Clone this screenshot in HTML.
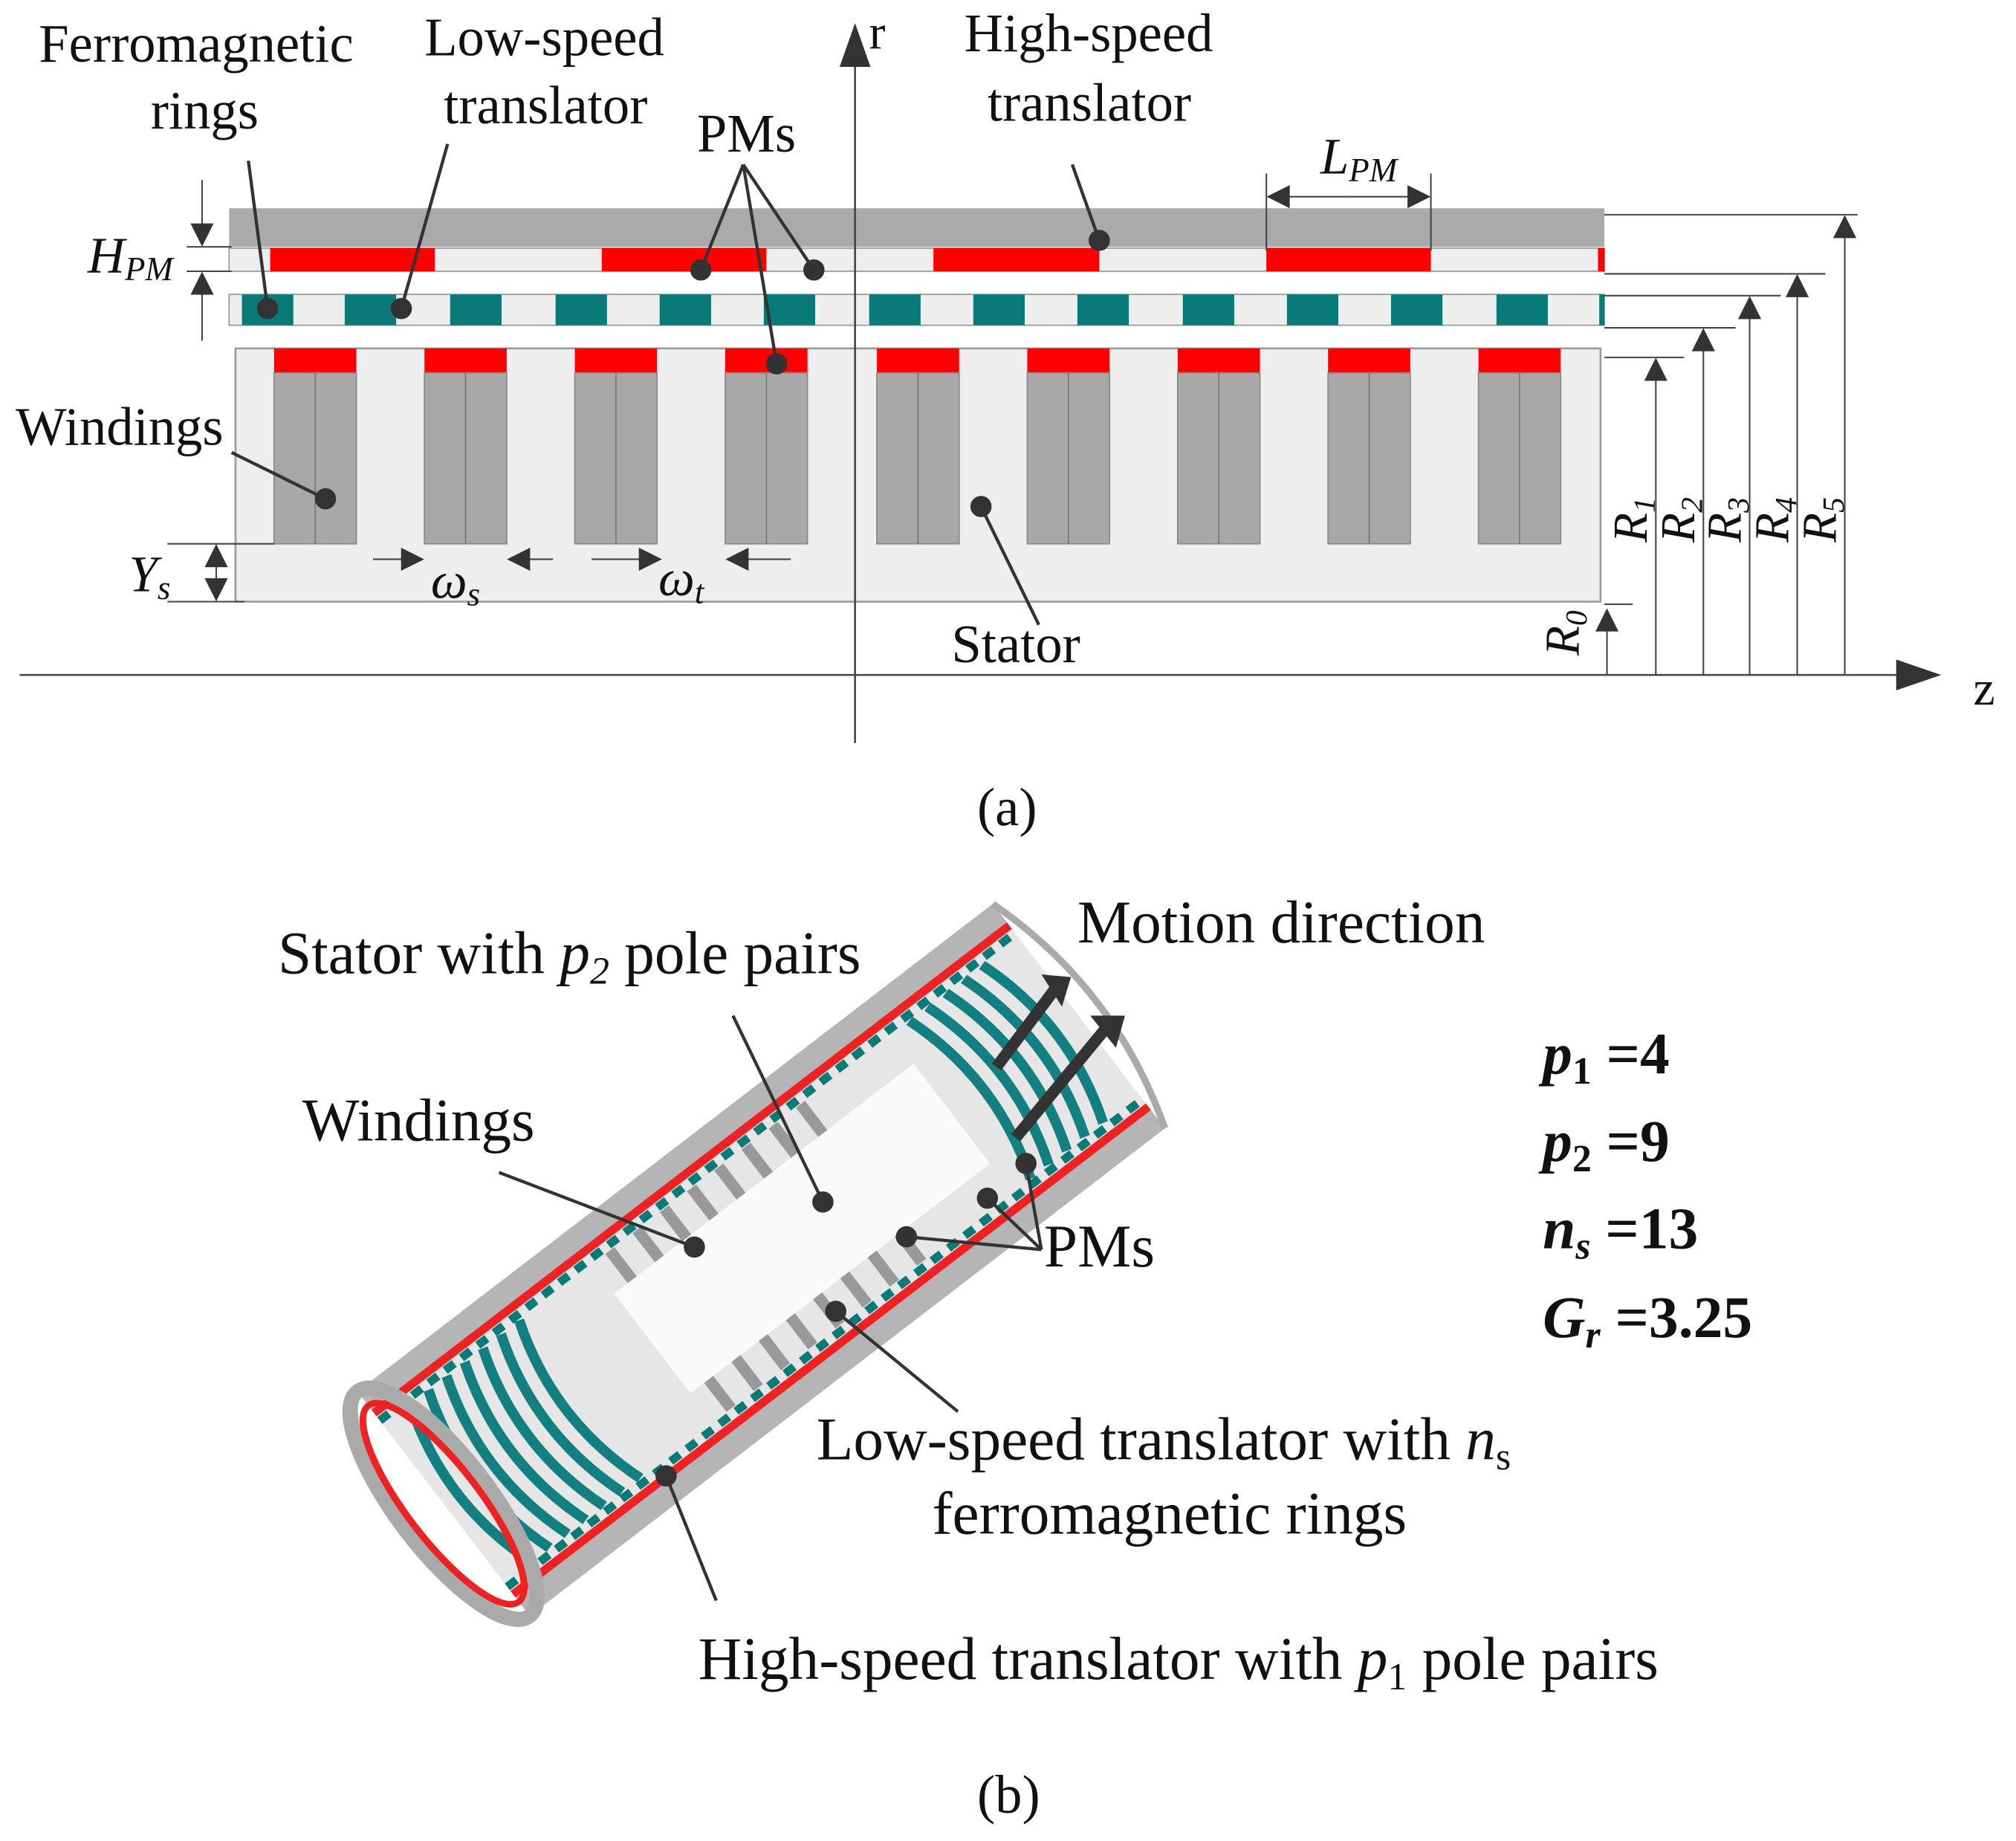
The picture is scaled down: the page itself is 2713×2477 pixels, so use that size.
<!DOCTYPE html>
<html><head><meta charset="utf-8"><style>
html,body{margin:0;padding:0;background:#fff}
svg{display:block}
text{font-family:"Liberation Serif",serif;fill:#111}
</style></head><body>
<svg width="2713" height="2477" viewBox="0 0 1568 1432" xmlns="http://www.w3.org/2000/svg">
<defs>
<marker id="ab" viewBox="0 0 10 10" markerWidth="22" markerHeight="18" refX="9" refY="5" orient="auto" markerUnits="userSpaceOnUse"><path d="M0,0 L10,5 L0,10 z" fill="#333"/></marker>
</defs>
<!-- ===== (a) ===== -->
<rect x="178" y="162" width="1070" height="30" fill="#aaa"/>
<rect x="178" y="193" width="1070" height="18" fill="#eee" stroke="#999" stroke-width="1"/>
<g fill="#f00">
<rect x="210" y="193" width="128" height="18"/><rect x="468" y="193" width="128" height="18"/>
<rect x="726" y="193" width="129" height="18"/><rect x="985" y="193" width="128" height="18"/>
<rect x="1243" y="193" width="5" height="18"/>
</g>
<rect x="178" y="229" width="1070" height="24" fill="#eee" stroke="#999" stroke-width="1"/>
<g fill="#0a7a78">
<rect x="188" y="229" width="40" height="24"/><rect x="268" y="229" width="40" height="24"/>
<rect x="350" y="229" width="40" height="24"/><rect x="432" y="229" width="40" height="24"/>
<rect x="513" y="229" width="40" height="24"/><rect x="594" y="229" width="40" height="24"/>
<rect x="676" y="229" width="40" height="24"/><rect x="757" y="229" width="40" height="24"/>
<rect x="838" y="229" width="40" height="24"/><rect x="920" y="229" width="40" height="24"/>
<rect x="1001" y="229" width="40" height="24"/><rect x="1082" y="229" width="40" height="24"/>
<rect x="1164" y="229" width="40" height="24"/><rect x="1244" y="229" width="4" height="24"/>
</g>
<rect x="183" y="271" width="1062" height="197" fill="#eee" stroke="#999" stroke-width="1.5"/>
<g>
<g id="slot"><rect x="213" y="271" width="64" height="19" fill="#f00"/><rect x="213" y="290" width="64" height="133" fill="#a8a8a8" stroke="#888"/><line x1="245" y1="290" x2="245" y2="423" stroke="#777"/></g>
<use href="#slot" x="117"/><use href="#slot" x="234"/><use href="#slot" x="351"/><use href="#slot" x="469"/>
<use href="#slot" x="586"/><use href="#slot" x="703"/><use href="#slot" x="820"/><use href="#slot" x="937"/>
</g>
<!-- axes -->
<line x1="15" y1="525" x2="1505" y2="525" stroke="#444" stroke-width="1.5"/>
<path d="M1475,513 L1510,525 L1475,537 z" fill="#333"/>
<text x="1535" y="548" font-size="38">z</text>
<line x1="665" y1="578" x2="665" y2="30" stroke="#444" stroke-width="1.5"/>
<path d="M653,52 L665,18 L677,52 z" fill="#333"/>
<text x="676" y="38" font-size="38">r</text>
<!-- R lines -->
<g stroke="#444" stroke-width="1.2" fill="none">
<line x1="1248" y1="167" x2="1445" y2="167"/><line x1="1248" y1="213" x2="1420" y2="213"/>
<line x1="1248" y1="230" x2="1385" y2="230"/><line x1="1248" y1="255" x2="1350" y2="255"/>
<line x1="1248" y1="278" x2="1310" y2="278"/><line x1="1248" y1="470" x2="1270" y2="470"/>
<line x1="1250" y1="525" x2="1250" y2="475" marker-end="url(#ab)"/>
<line x1="1288" y1="525" x2="1288" y2="280" marker-end="url(#ab)"/>
<line x1="1325" y1="525" x2="1325" y2="257" marker-end="url(#ab)"/>
<line x1="1361" y1="525" x2="1361" y2="232" marker-end="url(#ab)"/>
<line x1="1398" y1="525" x2="1398" y2="215" marker-end="url(#ab)"/>
<line x1="1435" y1="525" x2="1435" y2="169" marker-end="url(#ab)"/>
</g>
<g font-size="38" font-style="italic">
<text transform="translate(1228,510) rotate(-90)">R<tspan font-size="24" dy="6">0</tspan></text>
<text transform="translate(1281,422) rotate(-90)">R<tspan font-size="24" dy="6">1</tspan></text>
<text transform="translate(1318,422) rotate(-90)">R<tspan font-size="24" dy="6">2</tspan></text>
<text transform="translate(1354,422) rotate(-90)">R<tspan font-size="24" dy="6">3</tspan></text>
<text transform="translate(1391,422) rotate(-90)">R<tspan font-size="24" dy="6">4</tspan></text>
<text transform="translate(1428,422) rotate(-90)">R<tspan font-size="24" dy="6">5</tspan></text>
</g>
<!-- dims -->
<g stroke="#444" stroke-width="1.2" fill="none">
<line x1="145" y1="192" x2="180" y2="192"/><line x1="145" y1="211" x2="180" y2="211"/>
<line x1="157" y1="140" x2="157" y2="190" marker-end="url(#ab)"/>
<line x1="157" y1="265" x2="157" y2="213" marker-end="url(#ab)"/>
<line x1="130" y1="423" x2="213" y2="423"/><line x1="130" y1="468" x2="190" y2="468"/>
<line x1="168" y1="445" x2="168" y2="425" marker-end="url(#ab)"/>
<line x1="168" y1="445" x2="168" y2="466" marker-end="url(#ab)"/>
<line x1="290" y1="435" x2="328" y2="435" marker-end="url(#ab)"/>
<line x1="430" y1="435" x2="396" y2="435" marker-end="url(#ab)"/>
<line x1="460" y1="435" x2="513" y2="435" marker-end="url(#ab)"/>
<line x1="615" y1="435" x2="566" y2="435" marker-end="url(#ab)"/>
<line x1="985" y1="135" x2="985" y2="195"/><line x1="1113" y1="135" x2="1113" y2="195"/>
<line x1="1049" y1="153" x2="987" y2="153" marker-end="url(#ab)"/>
<line x1="1049" y1="153" x2="1111" y2="153" marker-end="url(#ab)"/>
</g>
<g font-size="40" font-style="italic">
<text x="68" y="212">H<tspan font-size="26" dy="6">PM</tspan></text>
<text x="100" y="460">Y<tspan font-size="26" dy="6">s</tspan></text>
<text x="335" y="465">ω<tspan font-size="26" dy="6">s</tspan></text>
<text x="512" y="463">ω<tspan font-size="26" dy="6">t</tspan></text>
<text x="1027" y="135">L<tspan font-size="26" dy="6">PM</tspan></text>
</g>
<!-- leaders -->
<g stroke="#333" stroke-width="2.5" fill="#333">
<line x1="193" y1="125" x2="208" y2="240"/><circle cx="208" cy="240" r="7"/>
<line x1="348" y1="112" x2="312" y2="240"/><circle cx="312" cy="240" r="7"/>
<line x1="578" y1="128" x2="545" y2="210"/><circle cx="545" cy="210" r="7"/>
<line x1="578" y1="128" x2="633" y2="210"/><circle cx="633" cy="210" r="7"/>
<line x1="578" y1="128" x2="604" y2="283"/><circle cx="604" cy="283" r="7"/>
<line x1="834" y1="128" x2="855" y2="187"/><circle cx="855" cy="187" r="7"/>
<line x1="180" y1="352" x2="253" y2="388"/><circle cx="253" cy="388" r="7"/>
<line x1="808" y1="486" x2="763" y2="394"/><circle cx="763" cy="394" r="7"/>
</g>
<g font-size="42">
<text x="30" y="48">Ferromagnetic</text><text x="117" y="100">rings</text>
<text x="330" y="43">Low-speed</text><text x="345" y="96">translator</text>
<text x="542" y="118">PMs</text>
<text x="750" y="40">High-speed</text><text x="768" y="94">translator</text>
<text x="12" y="346">Windings</text>
<text x="740" y="515">Stator</text>
<text x="760" y="642">(a)</text>
<text x="760" y="1410">(b)</text>
</g>
<!-- ===== (b) 3D approximation ===== -->
<g transform="translate(592,980) rotate(-37.5) scale(0.89,0.815) translate(30,0)">
<rect x="-380" y="-135" width="700" height="270" fill="#e6e6e6"/>
<rect x="-380" y="-135" width="700" height="22" fill="#b5b5b5"/>
<rect x="-380" y="113" width="700" height="22" fill="#b5b5b5"/>
<rect x="-380" y="-113" width="700" height="8" fill="#e22"/>
<rect x="-380" y="105" width="700" height="8" fill="#e22"/>
<line x1="-380" y1="-100" x2="320" y2="-100" stroke="#0a7a78" stroke-width="8" stroke-dasharray="10 8"/>
<line x1="-380" y1="100" x2="320" y2="100" stroke="#0a7a78" stroke-width="8" stroke-dasharray="10 8"/>
<rect x="-150" y="-60" width="330" height="120" fill="#fafafa"/>
<g stroke="#999" stroke-width="10">
<line x1="-130" y1="-95" x2="-130" y2="-60"/><line x1="-100" y1="-95" x2="-100" y2="-60"/><line x1="-70" y1="-95" x2="-70" y2="-60"/><line x1="-40" y1="-95" x2="-40" y2="-60"/><line x1="-10" y1="-95" x2="-10" y2="-60"/><line x1="20" y1="-95" x2="20" y2="-60"/><line x1="50" y1="-95" x2="50" y2="-60"/><line x1="80" y1="-95" x2="80" y2="-60"/>
<line x1="-130" y1="60" x2="-130" y2="95"/><line x1="-100" y1="60" x2="-100" y2="95"/><line x1="-70" y1="60" x2="-70" y2="95"/><line x1="-40" y1="60" x2="-40" y2="95"/><line x1="-10" y1="60" x2="-10" y2="95"/><line x1="20" y1="60" x2="20" y2="95"/><line x1="50" y1="60" x2="50" y2="95"/><line x1="80" y1="60" x2="80" y2="95"/>
</g>
<g fill="none" stroke="#127f80" stroke-width="9">
<path d="M-350,-95 q-30,95 0,190"/><path d="M-330,-95 q-30,95 0,190"/><path d="M-310,-95 q-30,95 0,190"/><path d="M-290,-95 q-30,95 0,190"/><path d="M-270,-95 q-30,95 0,190"/><path d="M-250,-95 q-30,95 0,190"/><path d="M-230,-95 q-30,95 0,190"/>
<path d="M200,-95 q30,95 0,190"/><path d="M220,-95 q30,95 0,190"/><path d="M240,-95 q30,95 0,190"/><path d="M260,-95 q30,95 0,190"/><path d="M280,-95 q30,95 0,190"/>
</g>
<ellipse cx="-380" cy="0" rx="40" ry="135" fill="none" stroke="#aaa" stroke-width="14"/>
<ellipse cx="-380" cy="0" rx="32" ry="118" fill="none" stroke="#e22" stroke-width="6"/>
<path d="M320,-135 q40,135 0,270" fill="none" stroke="#aaa" stroke-width="6"/>
</g>
<line x1="775" y1="830" x2="820" y2="770" stroke="#333" stroke-width="9"/><path d="M810,758 L833,760 L826,783 z" fill="#333"/>
<line x1="790" y1="885" x2="860" y2="800" stroke="#333" stroke-width="9"/><path d="M848,790 L875,790 L868,815 z" fill="#333"/>
<g stroke="#333" stroke-width="2.5" fill="#333">
<line x1="570" y1="790" x2="640" y2="935"/><circle cx="640" cy="935" r="7"/>
<line x1="388" y1="912" x2="540" y2="970"/><circle cx="540" cy="970" r="7"/>
<line x1="810" y1="972" x2="798" y2="905"/><circle cx="798" cy="905" r="7"/>
<line x1="810" y1="972" x2="768" y2="932"/><circle cx="768" cy="932" r="7"/>
<line x1="810" y1="972" x2="705" y2="962"/><circle cx="705" cy="962" r="7"/>
<line x1="745" y1="1098" x2="650" y2="1020"/><circle cx="650" cy="1020" r="7"/>
<line x1="557" y1="1245" x2="518" y2="1148"/><circle cx="518" cy="1148" r="7"/>
</g>
<g font-size="47">
<text x="838" y="733">Motion direction</text>
<text x="216" y="757">Stator with <tspan font-style="italic">p</tspan><tspan font-size="30" dy="8" font-style="italic">2</tspan><tspan dy="-8">  pole pairs</tspan></text>
<text x="235" y="887">Windings</text>
<text x="812" y="985">PMs</text>
<text x="635" y="1135">Low-speed translator with <tspan font-style="italic">n</tspan><tspan font-size="30" dy="8">s</tspan></text>
<text x="725" y="1193">ferromagnetic rings</text>
<text x="543" y="1306">High-speed translator  with <tspan font-style="italic">p</tspan><tspan font-size="30" dy="8">1</tspan><tspan dy="-8">  pole pairs</tspan></text>
</g>
<g font-size="46" font-weight="bold">
<text x="1200" y="835"><tspan font-style="italic">p</tspan><tspan font-size="30" dy="8">1</tspan><tspan dy="-8">  =4</tspan></text>
<text x="1200" y="903"><tspan font-style="italic">p</tspan><tspan font-size="30" dy="8">2</tspan><tspan dy="-8"> =9</tspan></text>
<text x="1200" y="971"><tspan font-style="italic">n</tspan><tspan font-size="30" dy="8" font-style="italic">s</tspan><tspan dy="-8"> =13</tspan></text>
<text x="1200" y="1040"><tspan font-style="italic">G</tspan><tspan font-size="30" dy="8" font-style="italic">r</tspan><tspan dy="-8"> =3.25</tspan></text>
</g>
</svg>
</body></html>
